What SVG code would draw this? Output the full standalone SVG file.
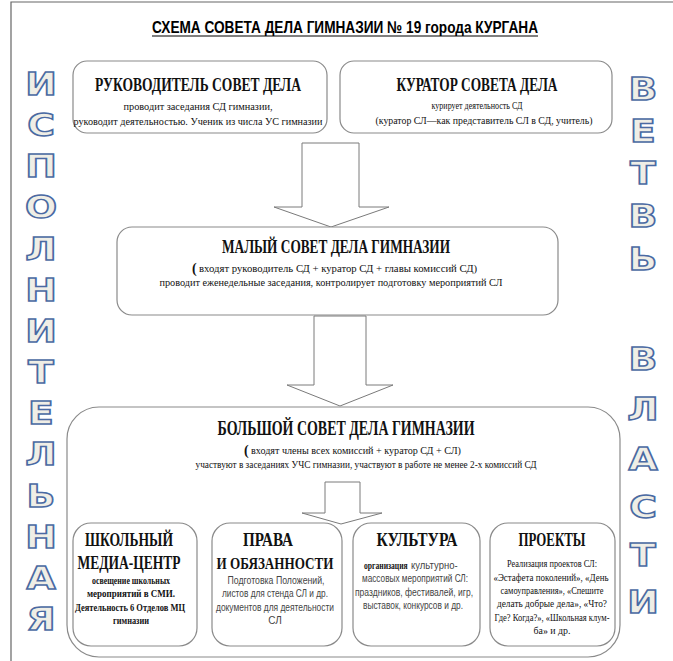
<svg xmlns="http://www.w3.org/2000/svg" width="673" height="661" viewBox="0 0 673 661">
<style>
.box{fill:#fff;stroke:#8a8a8a;stroke-width:1.2}
.arr{fill:#fff;stroke:#7a7a7a;stroke-width:1}
.t{font-family:"Liberation Serif","Times New Roman",serif;fill:#111;text-anchor:middle}
.b{font-weight:bold}
.s{font-family:"Liberation Sans",Arial,sans-serif;fill:#444;text-anchor:middle;font-size:10px}
.st{text-anchor:start}
.side{font-family:"DejaVu Sans",sans-serif;font-weight:bold;font-size:32px;fill:#efeee6;stroke:#4a6aa3;stroke-width:1.5;text-anchor:middle}
</style>
<rect width="673" height="661" fill="#fff"/>
<polyline points="11,661 11,2 673,2" fill="none" stroke="#666" stroke-width="1.2"/>
<g id="title">
<text x="345" y="33" font-family="Liberation Sans, Arial, sans-serif" font-weight="bold" font-size="17" text-anchor="middle" textLength="386" lengthAdjust="spacingAndGlyphs" fill="#000">СХЕМА СОВЕТА ДЕЛА ГИМНАЗИИ № 19 города КУРГАНА</text>
<line x1="152" y1="36" x2="538" y2="36" stroke="#000" stroke-width="1.2"/>
</g>
<g id="connectors">
<polygon class="arr" points="302,143 359,143 359,207 389,207 331,227 274,207 302,207"/>
<polygon class="arr" points="314,316 366,316 366,385 393,385 340,406 287,385 314,385"/>
</g>
<g id="rukovoditel">
<rect class="box" x="73" y="61" width="254" height="72" rx="14"/>
<text class="t b" x="198" y="91" font-size="18" textLength="206" lengthAdjust="spacingAndGlyphs">РУКОВОДИТЕЛЬ СОВЕТ ДЕЛА</text>
<text class="t" x="198" y="110" font-size="11" textLength="149" lengthAdjust="spacingAndGlyphs">проводит заседания СД гимназии,</text>
<text class="t" x="198" y="125" font-size="11" textLength="249" lengthAdjust="spacingAndGlyphs">руководит деятельностью. Ученик из числа УС гимназии</text>
</g>
<g id="kurator">
<rect class="box" x="340" y="61" width="272" height="72" rx="14"/>
<text class="t b" x="477" y="91" font-size="18" textLength="161" lengthAdjust="spacingAndGlyphs">КУРАТОР СОВЕТА ДЕЛА</text>
<text class="t" x="477" y="109" font-size="11" textLength="91" lengthAdjust="spacingAndGlyphs">курирует деятельность СД</text>
<text class="t" x="484" y="124" font-size="11" textLength="217" lengthAdjust="spacingAndGlyphs">(куратор СЛ—как представитель СЛ в СД, учитель)</text>
</g>
<g id="maly">
<rect class="box" x="117" y="227" width="441" height="88" rx="15"/>
<text class="t b" x="336" y="253" font-size="19" textLength="228" lengthAdjust="spacingAndGlyphs">МАЛЫЙ СОВЕТ ДЕЛА ГИМНАЗИИ</text>
<text class="t b st" x="192" y="273" font-size="14">(</text>
<text class="t st" x="199" y="272" font-size="11" textLength="278" lengthAdjust="spacingAndGlyphs">входят руководитель СД + куратор СД + главы комиссий СД)</text>
<text class="t" x="331" y="286" font-size="11" textLength="343" lengthAdjust="spacingAndGlyphs">проводит еженедельные заседания, контролирует подготовку мероприятий СЛ</text>
</g>
<g id="bolshoy">
<rect class="box" x="67" y="407" width="553" height="250" rx="32"/>
<text class="t b" x="346" y="435" font-size="20" textLength="257" lengthAdjust="spacingAndGlyphs">БОЛЬШОЙ СОВЕТ ДЕЛА ГИМНАЗИИ</text>
<text class="t b st" x="244" y="455" font-size="14">(</text>
<text class="t st" x="251" y="454" font-size="11" textLength="210" lengthAdjust="spacingAndGlyphs">входят члены всех комиссий + куратор СД + СЛ)</text>
<text class="t" x="366" y="468" font-size="11" textLength="341" lengthAdjust="spacingAndGlyphs">участвуют в заседаниях УЧС гимназии, участвуют в работе не менее 2-х комиссий СД</text>
</g>
<g id="connector-inner">
<polygon class="arr" points="325,482 360,482 360,513 382,513 341,524 302,513 325,513"/>
</g>
<g id="media">
<rect class="box" x="73" y="523" width="124" height="123" rx="18"/>
<text class="t b" x="129" y="546" font-size="19" textLength="88" lengthAdjust="spacingAndGlyphs">ШКОЛЬНЫЙ</text>
<text class="t b" x="129" y="569" font-size="19" textLength="103" lengthAdjust="spacingAndGlyphs">МЕДИА-ЦЕНТР</text>
<text class="t b" x="131" y="584" font-size="10" textLength="78" lengthAdjust="spacingAndGlyphs">освещение школьных</text>
<text class="t b" x="131" y="597" font-size="10" textLength="88" lengthAdjust="spacingAndGlyphs">мероприятий в СМИ.</text>
<text class="t b" x="130" y="611" font-size="10" textLength="110" lengthAdjust="spacingAndGlyphs">Деятельность 6 Отделов МЦ</text>
<text class="t b" x="131" y="624" font-size="10" textLength="36" lengthAdjust="spacingAndGlyphs">гимназии</text>
</g>
<g id="prava">
<rect class="box" x="212" y="523" width="130" height="123" rx="18"/>
<text class="t b" x="268" y="546" font-size="19" textLength="50" lengthAdjust="spacingAndGlyphs">ПРАВА</text>
<text class="t b" x="275" y="569" font-size="17.5" textLength="117" lengthAdjust="spacingAndGlyphs">И ОБЯЗАННОСТИ</text>
<text class="s" x="276" y="584" textLength="97" lengthAdjust="spacingAndGlyphs">Подготовка Положений,</text>
<text class="s" x="275" y="597" textLength="106" lengthAdjust="spacingAndGlyphs">листов для стенда СЛ и др.</text>
<text class="s" x="275" y="611" textLength="118" lengthAdjust="spacingAndGlyphs">документов для деятельности</text>
<text class="s" x="275" y="624">СЛ</text>
</g>
<g id="kultura">
<rect class="box" x="353" y="523" width="127" height="123" rx="18"/>
<text class="t b" x="417" y="546" font-size="19" textLength="81" lengthAdjust="spacingAndGlyphs">КУЛЬТУРА</text>
<text class="t b st" x="0" y="0" font-size="9.5" fill="#222" transform="translate(364 569) scale(0.8 1)">организация</text>
<text class="s st" x="0" y="0" font-size="9.5" transform="translate(411 569) scale(0.95 1)">культурно-</text>
<text class="s" x="415" y="582" textLength="106" lengthAdjust="spacingAndGlyphs">массовых мероприятий СЛ:</text>
<text class="s" x="414" y="596" textLength="118" lengthAdjust="spacingAndGlyphs">праздников, фестивалей, игр,</text>
<text class="s" x="413" y="609" textLength="100" lengthAdjust="spacingAndGlyphs">выставок, конкурсов и др.</text>
</g>
<g id="proekty">
<rect class="box" x="490" y="523" width="125" height="123" rx="18"/>
<text class="t b" x="552" y="546" font-size="19" textLength="67" lengthAdjust="spacingAndGlyphs">ПРОЕКТЫ</text>
<text class="t" fill="#333" x="552" y="567" font-size="10" textLength="90" lengthAdjust="spacingAndGlyphs">Реализация проектов СЛ:</text>
<text class="t" fill="#333" x="551" y="581" font-size="10" textLength="115" lengthAdjust="spacingAndGlyphs">«Эстафета поколений», «День</text>
<text class="t" fill="#333" x="552" y="594" font-size="10" textLength="103" lengthAdjust="spacingAndGlyphs">самоуправления», «Спешите</text>
<text class="t" fill="#333" x="552" y="607" font-size="10" textLength="110" lengthAdjust="spacingAndGlyphs">делать добрые дела», «Что?</text>
<text class="t" fill="#333" x="552" y="621" font-size="10" textLength="115" lengthAdjust="spacingAndGlyphs">Где? Когда?», «Школьная клум-</text>
<text class="t" fill="#333" x="552" y="634" font-size="10" textLength="37" lengthAdjust="spacingAndGlyphs">ба» и др.</text>
</g>
<g id="left-label" transform="translate(41 0) scale(1.18 1)">
<text class="side" x="0" y="95">И</text>
<text class="side" x="0" y="136">С</text>
<text class="side" x="0" y="177">П</text>
<text class="side" x="0" y="218">О</text>
<text class="side" x="0" y="260">Л</text>
<text class="side" x="0" y="301">Н</text>
<text class="side" x="0" y="342">И</text>
<text class="side" x="0" y="383">Т</text>
<text class="side" x="0" y="424">Е</text>
<text class="side" x="0" y="465">Л</text>
<text class="side" x="0" y="507">Ь</text>
<text class="side" x="0" y="548">Н</text>
<text class="side" x="0" y="589">А</text>
<text class="side" x="0" y="630">Я</text>
</g>
<g id="right-label" transform="translate(643 0) scale(1.18 1)">
<text class="side" x="0" y="100">В</text>
<text class="side" x="0" y="142">Е</text>
<text class="side" x="0" y="184">Т</text>
<text class="side" x="0" y="227">В</text>
<text class="side" x="0" y="270">Ь</text>
<text class="side" x="0" y="370">В</text>
<text class="side" x="0" y="420">Л</text>
<text class="side" x="0" y="470">А</text>
<text class="side" x="0" y="518">С</text>
<text class="side" x="0" y="566">Т</text>
<text class="side" x="0" y="613">И</text>
</g>
</svg>
